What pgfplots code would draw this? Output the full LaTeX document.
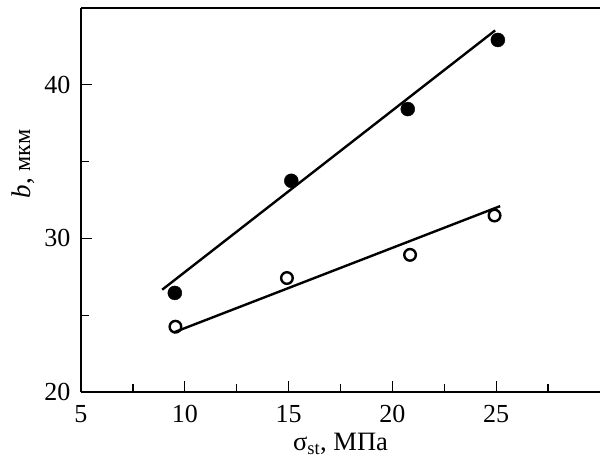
\documentclass[border=0pt]{standalone}
\usepackage{fontspec}
\setmainfont{Liberation Serif}
\usepackage{pgfplots}
\pgfplotsset{compat=1.18}
\begin{document}
\begin{tikzpicture}
\path[use as bounding box] (-81pt,-67pt) rectangle (519pt,392pt);
\begin{axis}[
 at={(0,0)}, anchor=south west,
 scale only axis, width=519pt, height=384pt,
 xmin=5, xmax=30, ymin=20, ymax=45,
 xtick={5,10,15,20,25}, minor xtick={7.5,12.5,17.5,22.5,27.5},
 ytick={20,30,40}, minor ytick={25,35},
 axis x line*=box, axis y line*=left,
 xtick pos=bottom, ytick pos=left,
 tick align=inside,
 major tick length=11pt, minor tick length=8pt,
 every tick/.style={black, line width=1.3pt},
 axis line style={line width=1.7pt},
 ticklabel style={font=\fontsize{26}{30}\selectfont},
 xticklabel style={yshift=-10pt},
 yticklabel style={xshift=-7pt},
 /pgf/number format/assume math mode=true,
 every axis x label/.style={at={(axis description cs:0.5,-0.153)}, anchor=base, font=\fontsize{26.5}{30}\selectfont},
 every axis y label/.style={at={(axis description cs:-0.112,0.594)}, rotate=90, anchor=center, font=\fontsize{27}{30}\selectfont},
 xlabel={σ\textsubscript{st}, МПа},
 ylabel={\textit{b}, {\fontsize{24}{28}\selectfont мкм}},
 clip=false,
]
% fit lines
\addplot[black, line width=2.4pt] coordinates {(8.91,26.66) (24.95,43.54)};
\addplot[black, line width=2.4pt] coordinates {(9.47,23.88) (25.19,32.10)};
% filled points
\addplot[only marks, mark=*, mark size=7pt, black] coordinates {
(9.52,26.45) (15.13,33.75) (20.74,38.42) (25.08,42.92)};
% open points
\addplot[only marks, mark=o, mark size=5.8pt, black, line width=2.4pt, fill=white,
  mark options={line width=2.4pt}] coordinates {
(9.55,24.25) (14.92,27.42) (20.85,28.93) (24.92,31.49)};
\end{axis}
\end{tikzpicture}
\end{document}
